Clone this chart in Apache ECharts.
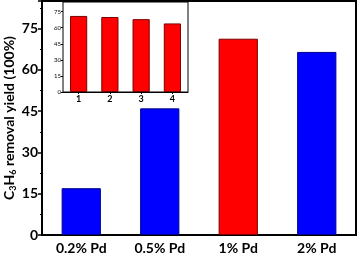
<!DOCTYPE html>
<html>
<head>
<meta charset="utf-8">
<script src="https://cdn.jsdelivr.net/npm/echarts@6/dist/echarts.min.js"></script>
<style>
  html, body { margin: 0; padding: 0; background: #fff; }
  #chart { width: 359px; height: 254px; }
</style>
</head>
<body>
<div id="chart"></div>
<script>
// main chart data
const categories = ['0.2% Pd', '0.5% Pd', '1% Pd', '2% Pd'];
const yieldValues = [17, 46, 71.3, 66.5];
const barColors = ['#0000ff', '#0000ff', '#ff0000', '#0000ff'];
const borderColors = ['#00008b', '#00008b', '#7a0000', '#00008b'];

// inset data
const insetCategories = ['1', '2', '3', '4'];
const insetValues = [71, 70, 68, 64];

const font = 'Lato, "Open Sans", sans-serif';

const chart = echarts.init(document.getElementById('chart'));

const option = {
    animation: false,
    grid: [
        { left: 42, right: 3, top: 1, bottom: 19, show: true, borderColor: '#000', borderWidth: 2, outerBoundsMode: 'none', containLabel: false },
        { left: 63, right: 171, top: 2, bottom: 162, show: true, borderColor: '#000', borderWidth: 1, z: 5, backgroundColor: '#fff', outerBoundsMode: 'none', containLabel: false }
    ],
    xAxis: [{
        type: 'category',
        gridIndex: 0,
        data: categories,
        axisLine: { lineStyle: { color: '#000', width: 2 } },
        axisTick: { show: false },
        axisLabel: { color: '#000', fontSize: 14, fontFamily: font, fontWeight: 'bold', margin: 6 }
    }, {
        type: 'category',
        gridIndex: 1,
        data: insetCategories,
        axisLine: { lineStyle: { color: '#000', width: 1 } },
        axisTick: { show: true, length: 2, alignWithLabel: true },
        axisLabel: { color: '#000', fontSize: 9, fontFamily: font, fontWeight: 'bold', margin: 3 }
    }],
    yAxis: [{
        type: 'value',
        gridIndex: 0,
        min: 0,
        max: 85,
        interval: 15,
        name: '{n|C}{s|3}{n|H}{s|6}{n| removal yield (100%)}',
        nameLocation: 'middle',
        nameGap: 24,
        nameMoveOverlap: false,
        nameTextStyle: {
            rich: {
                n: { fontSize: 14, fontFamily: font, fontWeight: 'bold', color: '#000' },
                s: { fontSize: 9, fontFamily: font, fontWeight: 'bold', color: '#000', padding: [8, 0, 0, 0] }
            }
        },
        splitLine: { show: false },
        axisLine: { show: true, lineStyle: { color: '#000', width: 2 } },
        axisTick: { show: true, length: 4, lineStyle: { width: 1.5 } },
        minorTick: { show: true, splitNumber: 2, length: 2, lineStyle: { color: '#000' } },
        axisLabel: { color: '#000', fontSize: 14, fontFamily: font, fontWeight: 'bold', margin: 4, showMaxLabel: false }
    }, {
        type: 'value',
        gridIndex: 1,
        min: 0,
        max: 84,
        interval: 15,
        splitLine: { show: false },
        axisLine: { show: true, lineStyle: { color: '#000', width: 1 } },
        axisTick: { show: true, length: 2 },
        axisLabel: { color: '#000', fontSize: 6, fontFamily: font, margin: 2, showMaxLabel: false }
    }],
    series: [{
        type: 'bar',
        xAxisIndex: 0,
        yAxisIndex: 0,
        barWidth: '50%',
        data: yieldValues.map((v, i) => ({
            value: v,
            itemStyle: { color: barColors[i], borderColor: borderColors[i], borderWidth: 1 }
        }))
    }, {
        type: 'bar',
        xAxisIndex: 1,
        yAxisIndex: 1,
        barWidth: '55%',
        z: 6,
        itemStyle: { color: '#ff0000', borderColor: '#7a0000', borderWidth: 1 },
        data: insetValues
    }]
};

chart.setOption(option);
</script>
</body>
</html>
